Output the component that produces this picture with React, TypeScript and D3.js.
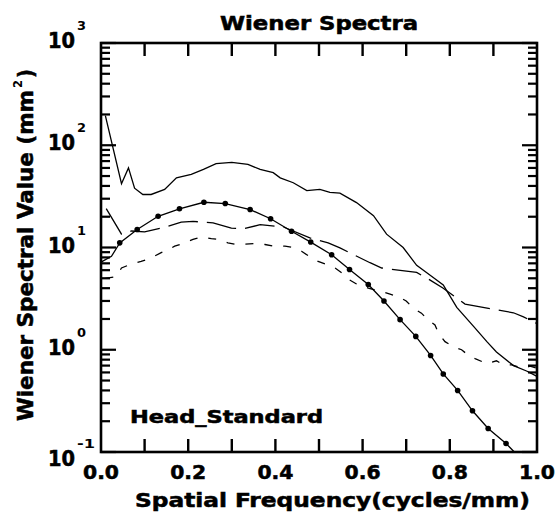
import React from 'react';
import * as d3 from 'd3';

// [spatial frequency (cycles/mm), wiener spectral value (mm^2)]
const upperSolid: [number, number][] = [
  [0.01, 195], [0.047, 42], [0.063, 60], [0.077, 38], [0.096, 33], [0.115, 33],
  [0.146, 37], [0.173, 48], [0.207, 52], [0.235, 58], [0.264, 66], [0.3, 68],
  [0.337, 65], [0.365, 58], [0.395, 54], [0.411, 48], [0.441, 43], [0.472, 36],
  [0.502, 37], [0.525, 34.6], [0.548, 34], [0.586, 27.5], [0.625, 20.5],
  [0.655, 13.5], [0.693, 10], [0.724, 6.7], [0.762, 5.1], [0.785, 4.3],
  [0.816, 2.6], [0.854, 1.7], [0.885, 1.2], [0.907, 0.95], [0.946, 0.7],
  [0.976, 0.62], [1.0, 0.55],
];

const longDashed: [number, number][] = [
  [0.012, 24], [0.047, 13.5], [0.07, 14.5], [0.1, 14.2], [0.146, 15.8],
  [0.184, 17.7], [0.211, 18], [0.257, 17.4], [0.299, 15.5], [0.326, 15.2],
  [0.365, 16.7], [0.418, 15.9], [0.479, 12.4], [0.521, 11.1], [0.548, 9.9],
  [0.617, 7.1], [0.644, 6.3], [0.724, 5.7], [0.755, 4.8], [0.785, 4.0],
  [0.835, 2.8], [0.854, 2.7], [0.946, 2.3], [0.969, 2.1], [1.0, 1.8],
];

const shortDashed: [number, number][] = [
  [0.01, 5.0], [0.035, 5.2], [0.047, 6.3], [0.066, 6.8], [0.092, 7.3],
  [0.112, 7.8], [0.138, 8.9], [0.154, 9.5], [0.169, 10.3], [0.192, 11.1],
  [0.211, 12], [0.23, 12.7], [0.253, 12.2], [0.268, 12], [0.291, 11.1],
  [0.31, 10.7], [0.35, 10.9], [0.376, 10.7], [0.395, 10.3], [0.422, 10.3],
  [0.441, 10.0], [0.46, 9.2], [0.479, 8.1], [0.498, 7.3], [0.518, 6.8],
  [0.537, 6.3], [0.556, 5.5], [0.567, 4.9], [0.586, 4.4], [0.613, 4.0],
  [0.644, 3.7], [0.663, 3.5], [0.682, 3.3], [0.7, 3.0], [0.716, 2.55],
  [0.735, 2.28], [0.75, 1.96], [0.766, 1.75], [0.774, 1.45], [0.789, 1.2],
  [0.808, 1.07], [0.827, 1.0], [0.843, 0.88], [0.858, 0.82], [0.885, 0.73],
  [0.907, 0.78], [0.923, 0.71], [0.942, 0.71], [0.969, 0.66], [0.984, 0.69],
  [1.0, 0.66],
];

// curve with the round markers
const dottedLead: [number, number][] = [[0.0, 7.2], [0.024, 8.2]];
const dottedMarks: [number, number][] = [
  [0.043, 11.1], [0.083, 15.0], [0.131, 20.2], [0.18, 23.9], [0.236, 27.7],
  [0.285, 26.9], [0.342, 23.5], [0.389, 19.1], [0.437, 14.4], [0.481, 11.3],
  [0.529, 8.5], [0.57, 6.1], [0.613, 4.35], [0.649, 3.0], [0.686, 1.97],
  [0.722, 1.35], [0.756, 0.88], [0.785, 0.58], [0.818, 0.4], [0.852, 0.253],
  [0.888, 0.17], [0.929, 0.121],
];
const dottedTail: [number, number][] = [[0.948, 0.1]];

const xLabels = ['0.0', '0.2', '0.4', '0.6', '0.8', '1.0'];
const xTickVals = [0.1, 0.2, 0.3, 0.4, 0.5, 0.6, 0.7, 0.8, 0.9];
const yExponents = [-1, 0, 1, 2, 3];
const yMinorSteps = [2, 3, 4, 5, 6, 7, 8, 9];

const plot = { left: 101, right: 537, top: 43, bottom: 452 };
const font = "'DejaVu Sans Condensed', 'Liberation Sans Narrow', 'DejaVu Sans', sans-serif";

export default function App() {
  const x = d3.scaleLinear().domain([0, 1]).range([plot.left, plot.right]);
  const y = d3.scaleLog().domain([0.1, 1000]).range([plot.bottom, plot.top]);
  const line = d3.line<[number, number]>().x(d => x(d[0])).y(d => y(d[1]));

  const minorY: number[] = [];
  yExponents.slice(0, 4).forEach(e => yMinorSteps.forEach(k => minorY.push(k * Math.pow(10, e))));

  const curve = { fill: 'none', stroke: '#000', strokeWidth: 1.3 };
  // heavier glyphs, like the old bitmap font
  const heavy = { stroke: '#000', strokeWidth: 0.5 };

  return (
    <svg width={560} height={520} style={{ position: 'absolute', left: 0, top: 0, background: '#fff' }}
      fontFamily={font} fontWeight="bold">
      <text x={319} y={30} textAnchor="middle" fontSize={20} textLength={198}
        lengthAdjust="spacingAndGlyphs" {...heavy}>
        Wiener Spectra
      </text>

      <path d={line(upperSolid) || ''} {...curve} />
      <path d={line(longDashed) || ''} {...curve} strokeDasharray="30 9" />
      <path d={line(shortDashed) || ''} {...curve} strokeDasharray="8 11" />
      <path d={line([...dottedLead, ...dottedMarks, ...dottedTail]) || ''} {...curve} />
      {dottedMarks.map((d, i) => (
        <circle key={i} cx={x(d[0])} cy={y(d[1])} r={2.8} fill="#000" />
      ))}

      {xTickVals.map((v, i) => (
        <g key={'x' + i}>
          <rect x={x(v) - 1.2} y={plot.bottom - 13} width={2.4} height={13} fill="#000" />
          <rect x={x(v) - 1.2} y={plot.top} width={2.4} height={13} fill="#000" />
        </g>
      ))}
      {minorY.map((v, i) => (
        <g key={'m' + i}>
          <rect x={plot.left} y={y(v) - 1.1} width={9} height={2.2} fill="#000" />
          <rect x={plot.right - 9} y={y(v) - 1.1} width={9} height={2.2} fill="#000" />
        </g>
      ))}
      {yExponents.map((e, i) => (
        <g key={'M' + i}>
          <rect x={plot.left} y={y(Math.pow(10, e)) - 1.1} width={15} height={2.2} fill="#000" />
          <rect x={plot.right - 15} y={y(Math.pow(10, e)) - 1.1} width={15} height={2.2} fill="#000" />
        </g>
      ))}

      <rect x={plot.left} y={plot.top} width={plot.right - plot.left} height={plot.bottom - plot.top}
        fill="none" stroke="#000" strokeWidth={2.6} />

      {xLabels.map((t, i) => (
        <text key={t} x={x(i * 0.2)} y={479} textAnchor="middle" fontSize={20}
          textLength={36} lengthAdjust="spacingAndGlyphs" {...heavy}>{t}</text>
      ))}

      {yExponents.map(e => {
        const base = y(Math.pow(10, e)) + (e === -1 ? 14 : 5);
        const exp = String(e);
        return (
          <g key={e}>
            <text x={48} y={base} fontSize={21} textLength={27} lengthAdjust="spacingAndGlyphs" {...heavy}>10</text>
            <text x={77} y={base - 18} fontSize={13} textLength={exp.length * 9}
              lengthAdjust="spacingAndGlyphs">{exp}</text>
          </g>
        );
      })}

      <text x={130} y={423} fontSize={18} textLength={193} lengthAdjust="spacingAndGlyphs" {...heavy}>
        Head_Standard
      </text>

      <text x={135} y={507} fontSize={20} textLength={395} lengthAdjust="spacingAndGlyphs" {...heavy}>
        Spatial Frequency(cycles/mm)
      </text>
      <g transform="translate(33,421) rotate(-90)">
        <text x={0} y={0} fontSize={21} textLength={331} lengthAdjust="spacingAndGlyphs" {...heavy}>
          Wiener Spectral Value (mm
        </text>
        <text x={333} y={-11} fontSize={12} textLength={8} lengthAdjust="spacingAndGlyphs">2</text>
        <text x={343} y={0} fontSize={21} textLength={9} lengthAdjust="spacingAndGlyphs" {...heavy}>)</text>
      </g>
    </svg>
  );
}
